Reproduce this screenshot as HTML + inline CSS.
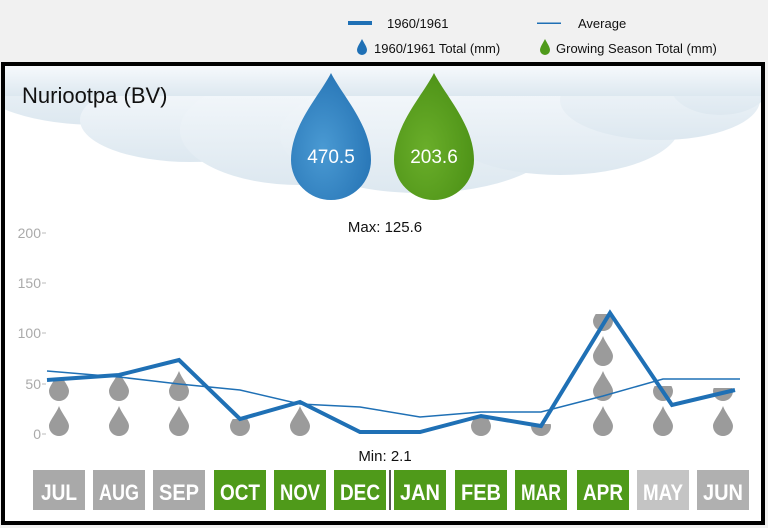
<!DOCTYPE html>
<html><head><meta charset="utf-8"><style>
html,body{margin:0;padding:0;background:#f1f1f1;}
svg{display:block;font-family:"Liberation Sans",Arial,sans-serif;}
</style></head><body>
<svg width="768" height="528" viewBox="0 0 768 528" xmlns="http://www.w3.org/2000/svg">
<defs>
<linearGradient id="cl" x1="0" y1="0" x2="0" y2="1"><stop offset="0" stop-color="#f6f9fc"/><stop offset="1" stop-color="#dde8f0"/></linearGradient>
<radialGradient id="bg" cx="0.4" cy="0.6" r="0.6"><stop offset="0" stop-color="#4a9ad3"/><stop offset="1" stop-color="#2a78b8"/></radialGradient>
<radialGradient id="gg" cx="0.4" cy="0.6" r="0.6"><stop offset="0" stop-color="#6aae2a"/><stop offset="1" stop-color="#4f9418"/></radialGradient>
<clipPath id="fr"><rect x="5" y="66" width="756" height="455"/></clipPath>
<path id="d" d="M0 -30 C3 -22 10 -15 10 -10 A10 10 0 0 1 -10 -10 C-10 -15 -3 -22 0 -30Z"/>
<clipPath id="c0"><rect x="40" y="380" width="40" height="60"/></clipPath>
<clipPath id="c1"><rect x="100" y="375" width="40" height="65"/></clipPath>
<clipPath id="c2"><rect x="160" y="360" width="40" height="80"/></clipPath>
<clipPath id="c3"><rect x="220" y="419" width="40" height="20"/></clipPath>
<clipPath id="c4"><rect x="280" y="402" width="40" height="38"/></clipPath>
<clipPath id="c7"><rect x="460" y="416" width="40" height="24"/></clipPath>
<clipPath id="c8"><rect x="520" y="424" width="40" height="16"/></clipPath>
<clipPath id="c9"><rect x="580" y="314" width="40" height="126"/></clipPath>
<clipPath id="c10"><rect x="640" y="386" width="40" height="54"/></clipPath>
<clipPath id="c11"><rect x="700" y="388" width="40" height="52"/></clipPath>
</defs>
<rect x="0" y="0" width="768" height="62" fill="#f1f1f1"/>
<!-- legend -->
<rect x="348" y="21" width="24" height="4" fill="#1f70b5"/>
<text x="387" y="28" font-size="13" fill="#111">1960/1961</text>
<rect x="537" y="22.5" width="24" height="1.5" fill="#1f70b5"/>
<text x="578" y="28" font-size="13" fill="#111">Average</text>
<path d="M362 39 C364 43 367 47 367 50 A5 5 0 0 1 357 50 C357 47 360 43 362 39Z" fill="#1f70b5"/>
<text x="374" y="53" font-size="13" fill="#111">1960/1961 Total (mm)</text>
<path d="M545 39 C547 43 550 47 550 50 A5 5 0 0 1 540 50 C540 47 543 43 545 39Z" fill="#4f9a1a"/>
<text x="556" y="53" font-size="13" fill="#111">Growing Season Total (mm)</text>
<!-- frame -->
<rect x="3" y="64" width="760" height="459" fill="#fff" stroke="#000" stroke-width="4"/>
<!-- cloud -->
<g fill="url(#cl)" clip-path="url(#fr)">
<ellipse cx="100" cy="85" rx="120" ry="40"/>
<ellipse cx="190" cy="120" rx="110" ry="42"/>
<ellipse cx="300" cy="130" rx="120" ry="55"/>
<ellipse cx="420" cy="135" rx="140" ry="58"/>
<ellipse cx="560" cy="125" rx="120" ry="50"/>
<ellipse cx="660" cy="100" rx="100" ry="40"/>
<ellipse cx="720" cy="85" rx="50" ry="30"/>
<rect x="5" y="66" width="756" height="30"/>
</g>
<text x="22" y="103" font-size="22" fill="#111">Nuriootpa (BV)</text>
<!-- big drops -->
<path d="M331 73 C342 95 371 125 371 160 A40 40 0 0 1 291 160 C291 125 320 95 331 73Z" fill="url(#bg)"/>
<path d="M434 73 C445 95 474 125 474 160 A40 40 0 0 1 394 160 C394 125 423 95 434 73Z" fill="url(#gg)"/>
<text x="331" y="163" font-size="19" fill="#fff" text-anchor="middle">470.5</text>
<text x="434" y="163" font-size="19" fill="#fff" text-anchor="middle">203.6</text>
<text x="385" y="232" font-size="15" fill="#111" text-anchor="middle">Max: 125.6</text>
<text x="385" y="461" font-size="15" fill="#111" text-anchor="middle">Min: 2.1</text>
<!-- y axis -->
<g font-size="14" fill="#aaa" text-anchor="end">
<text x="41" y="238">200</text><text x="41" y="288">150</text><text x="41" y="338">100</text><text x="41" y="389">50</text><text x="41" y="439">0</text>
</g>
<g stroke="#bbb" stroke-width="1"><line x1="42" y1="233" x2="46" y2="233"/><line x1="42" y1="283" x2="46" y2="283"/><line x1="42" y1="333" x2="46" y2="333"/><line x1="42" y1="384" x2="46" y2="384"/><line x1="42" y1="434" x2="46" y2="434"/></g>
<!-- gray drops -->
<g fill="#9b9b9b">
<g clip-path="url(#c0)"><use href="#d" x="59" y="436"/><use href="#d" x="59" y="401"/></g>
<g clip-path="url(#c1)"><use href="#d" x="119" y="436"/><use href="#d" x="119" y="401"/></g>
<g clip-path="url(#c2)"><use href="#d" x="179" y="436"/><use href="#d" x="179" y="401"/></g>
<g clip-path="url(#c3)"><use href="#d" x="240" y="436"/></g>
<g clip-path="url(#c4)"><use href="#d" x="300" y="436"/></g>
<g clip-path="url(#c7)"><use href="#d" x="481" y="436"/></g>
<g clip-path="url(#c8)"><use href="#d" x="541" y="436"/></g>
<g clip-path="url(#c9)"><use href="#d" x="603" y="436"/><use href="#d" x="603" y="401"/><use href="#d" x="603" y="366"/><use href="#d" x="603" y="331"/></g>
<g clip-path="url(#c10)"><use href="#d" x="663" y="436"/><use href="#d" x="663" y="401"/></g>
<g clip-path="url(#c11)"><use href="#d" x="723" y="436"/><use href="#d" x="723" y="401"/></g>
</g>
<!-- lines -->
<polyline fill="none" stroke="#1f70b5" stroke-width="1.5" points="47,371 119,377 179,384 240,390 300,404 360,407 420,417 481,412 541,412 603,396 663,379 740,379"/>
<polyline fill="none" stroke="#1f70b5" stroke-width="4" stroke-linejoin="miter" points="47,380 119,375 179,360 240,419 300,402 360,432 420,432 481,416 541,426 610,313 672,405 735,390"/>
<!-- months -->
<g font-size="22" font-weight="bold" fill="#fff" text-anchor="middle">
<rect x="33" y="470" width="52" height="40" fill="#a9a9a9"/><text x="59" y="500" textLength="36" lengthAdjust="spacingAndGlyphs">JUL</text>
<rect x="93" y="470" width="52" height="40" fill="#a9a9a9"/><text x="119" y="500" textLength="40" lengthAdjust="spacingAndGlyphs">AUG</text>
<rect x="153" y="470" width="52" height="40" fill="#a9a9a9"/><text x="179" y="500" textLength="40" lengthAdjust="spacingAndGlyphs">SEP</text>
<rect x="214" y="470" width="52" height="40" fill="#4f9a1a"/><text x="240" y="500" textLength="40" lengthAdjust="spacingAndGlyphs">OCT</text>
<rect x="274" y="470" width="52" height="40" fill="#4f9a1a"/><text x="300" y="500" textLength="40" lengthAdjust="spacingAndGlyphs">NOV</text>
<rect x="334" y="470" width="52" height="40" fill="#4f9a1a"/><text x="360" y="500" textLength="40" lengthAdjust="spacingAndGlyphs">DEC</text>
<rect x="394" y="470" width="52" height="40" fill="#4f9a1a"/><text x="420" y="500" textLength="40" lengthAdjust="spacingAndGlyphs">JAN</text>
<rect x="455" y="470" width="52" height="40" fill="#4f9a1a"/><text x="481" y="500" textLength="40" lengthAdjust="spacingAndGlyphs">FEB</text>
<rect x="515" y="470" width="52" height="40" fill="#4f9a1a"/><text x="541" y="500" textLength="40" lengthAdjust="spacingAndGlyphs">MAR</text>
<rect x="577" y="470" width="52" height="40" fill="#4f9a1a"/><text x="603" y="500" textLength="40" lengthAdjust="spacingAndGlyphs">APR</text>
<rect x="637" y="470" width="52" height="40" fill="#c4c4c4"/><text x="663" y="500" textLength="40" lengthAdjust="spacingAndGlyphs">MAY</text>
<rect x="697" y="470" width="52" height="40" fill="#b0b0b0"/><text x="723" y="500" textLength="40" lengthAdjust="spacingAndGlyphs">JUN</text>
</g>
<line x1="390" y1="470" x2="390" y2="510" stroke="#555" stroke-width="2"/>
</svg>
</body></html>
